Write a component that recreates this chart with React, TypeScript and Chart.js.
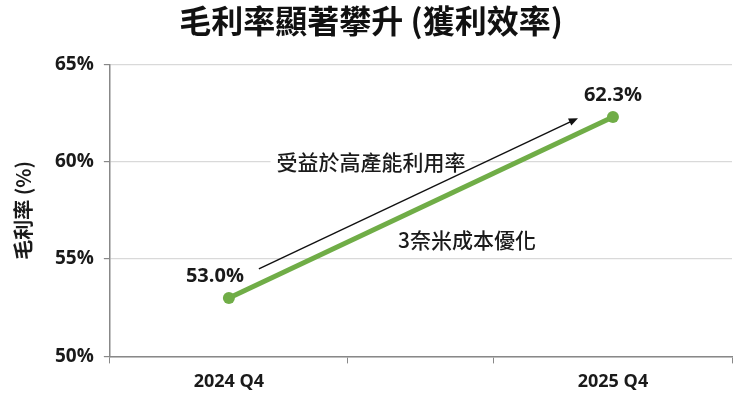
import React, { useEffect, useRef } from "react";
import { Chart, registerables } from "chart.js";

Chart.register(...registerables);

const chartTitle = "毛利率顯著攀升 (獲利效率)";
const yAxisTitle = "毛利率 (%)";
const categories = ["2024 Q4", "2025 Q4"];
const grossMargin = [53.0, 62.3];
const yMin = 50;
const yMax = 65;
const yStep = 5;
const xMin = -0.31;
const xMax = 1.31;
const xTickMarks = [-0.31, 0.31, 0.69, 1.31];
const noteUtilization = "受益於高產能利用率";
const noteCost = "3奈米成本優化";
const noteUtilizationPos = { x: 0.37, y: 60 };
const noteCostPos = { x: 0.62, y: 56 };
const arrowFrom = { x: 0.078, y: 54.5 };
const arrowTo = { x: 0.909, y: 62.24 };

const GREEN = "#70AD47";
const CJK = "'Noto Sans CJK TC', 'Noto Sans', sans-serif";
const NUM = "'Open Sans', 'Noto Sans', sans-serif";

const isLabelTick = (v: number) =>
  Math.abs(v - Math.round(v)) < 1e-6 && Math.round(v) >= 0 && Math.round(v) < categories.length;

const annotationPlugin = {
  id: "annotations",
  afterDatasetsDraw(chart: any) {
    const { ctx, scales } = chart;
    const xs = scales.x;
    const ys = scales.y;
    ctx.save();
    ctx.font = `500 21px ${CJK}`;
    ctx.textAlign = "center";
    ctx.textBaseline = "middle";
    const p1x = xs.getPixelForValue(noteUtilizationPos.x);
    const p1y = ys.getPixelForValue(noteUtilizationPos.y);
    const w1 = ctx.measureText(noteUtilization).width;
    ctx.fillStyle = "#ffffff";
    ctx.fillRect(p1x - w1 / 2 - 6, p1y - 14, w1 + 12, 28);
    ctx.fillStyle = "#1a1a1a";
    ctx.fillText(noteUtilization, p1x, p1y);
    ctx.fillText(noteCost, xs.getPixelForValue(noteCostPos.x), ys.getPixelForValue(noteCostPos.y));
    const ax1 = xs.getPixelForValue(arrowFrom.x);
    const ay1 = ys.getPixelForValue(arrowFrom.y);
    const ax2 = xs.getPixelForValue(arrowTo.x);
    const ay2 = ys.getPixelForValue(arrowTo.y);
    const ang = Math.atan2(ay2 - ay1, ax2 - ax1);
    const head = 10;
    ctx.strokeStyle = "#111";
    ctx.lineWidth = 1.4;
    ctx.beginPath();
    ctx.moveTo(ax1, ay1);
    ctx.lineTo(ax2 - Math.cos(ang) * head * 0.8, ay2 - Math.sin(ang) * head * 0.8);
    ctx.stroke();
    ctx.fillStyle = "#111";
    ctx.beginPath();
    ctx.moveTo(ax2, ay2);
    ctx.lineTo(ax2 - head * Math.cos(ang - 0.4), ay2 - head * Math.sin(ang - 0.4));
    ctx.lineTo(ax2 - head * Math.cos(ang + 0.4), ay2 - head * Math.sin(ang + 0.4));
    ctx.closePath();
    ctx.fill();
    ctx.font = `bold 20px ${NUM}`;
    ctx.fillStyle = "#1a1a1a";
    const meta = chart.getDatasetMeta(0);
    meta.data.forEach((pt: any, i: number) => {
      const label = grossMargin[i].toFixed(1) + "%";
      const dx = i === 0 ? -14 : 0;
      ctx.fillText(label, pt.x + dx, pt.y - 22);
    });
    ctx.restore();
  },
};

export default function App() {
  const ref = useRef<HTMLCanvasElement>(null);
  useEffect(() => {
    if (!ref.current) return;
    const chart = new Chart(ref.current, {
      type: "line",
      data: {
        datasets: [
          {
            label: yAxisTitle,
            data: grossMargin.map((v, i) => ({ x: i, y: v })),
            borderColor: GREEN,
            backgroundColor: GREEN,
            borderWidth: 5,
            pointRadius: 6,
            pointBackgroundColor: GREEN,
            pointBorderWidth: 0,
            tension: 0,
          },
        ],
      },
      options: {
        animation: false,
        responsive: true,
        maintainAspectRatio: false,
        layout: { padding: { right: 5, bottom: 3, left: 7 } },
        plugins: {
          legend: { display: false },
          tooltip: { enabled: false },
          title: {
            display: true,
            text: chartTitle,
            color: "#111",
            font: { family: CJK, size: 32, weight: "bold" },
            padding: { top: 2, bottom: 24 },
          },
        },
        scales: {
          x: {
            type: "linear",
            min: xMin,
            max: xMax,
            afterBuildTicks: (scale: any) => {
              const vals = [...xTickMarks, ...categories.map((_, i) => i)].sort((a, b) => a - b);
              scale.ticks = vals.map((v) => ({ value: v }));
            },
            ticks: {
              autoSkip: false,
              maxRotation: 0,
              padding: 8,
              color: "#1a1a1a",
              font: { family: NUM, size: 18, weight: "bold" },
              callback: (v: any) => (isLabelTick(Number(v)) ? categories[Math.round(Number(v))] : ""),
            },
            grid: {
              drawOnChartArea: false,
              drawTicks: true,
              tickLength: 7,
              tickColor: (c: any) => (c.tick && isLabelTick(c.tick.value) ? "rgba(0,0,0,0)" : "#888"),
            },
            border: { color: "#888", width: 1.5 },
          },
          y: {
            min: yMin,
            max: yMax,
            ticks: {
              stepSize: yStep,
              padding: 10,
              color: "#1a1a1a",
              font: { family: NUM, size: 19, weight: "bold" },
              callback: (v: any) => v + "%",
            },
            grid: { color: "#d9d9d9", tickColor: "#888", tickLength: 6, lineWidth: 1.2 },
            border: { color: "#888", width: 1.5 },
            title: {
              display: true,
              text: yAxisTitle,
              color: "#1a1a1a",
              font: { family: CJK, size: 20, weight: "bold" },
              padding: { bottom: 10 },
            },
          },
        },
      },
      plugins: [annotationPlugin],
    } as any);
    return () => chart.destroy();
  }, []);
  return (
    <div style={{ position: "absolute", left: 0, top: 0, width: 740, height: 404, background: "#fff" }}>
      <canvas ref={ref} />
    </div>
  );
}
